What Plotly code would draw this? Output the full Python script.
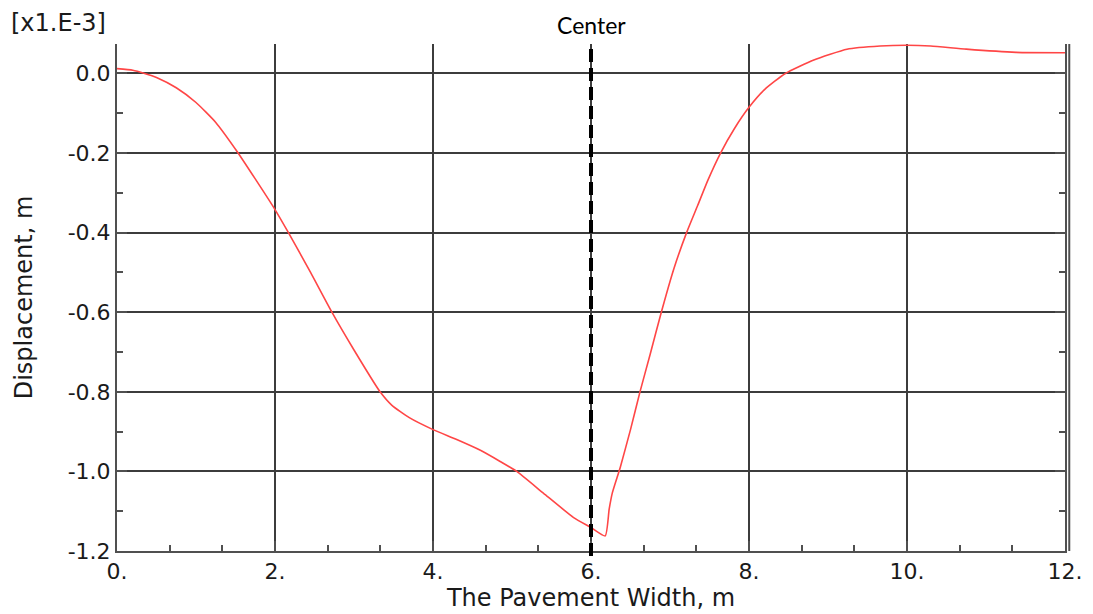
import plotly.graph_objects as go

# Displacement profile (x in m, y in units of 1e-3 m)
width_m = [0.0, 0.2, 0.35, 0.5, 0.75, 1.0, 1.25, 1.52, 1.75, 2.0, 2.17, 2.45, 2.72,
           3.0, 3.33, 3.48, 3.7, 4.0, 4.3, 4.6, 4.85, 5.06, 5.4, 5.78, 6.0, 6.18, 6.23,
           6.27, 6.37, 6.5, 6.62, 6.75, 6.89, 7.05, 7.21, 7.35, 7.48, 7.64, 7.82, 8.0,
           8.2, 8.46, 8.82, 9.24, 9.66, 10.0, 10.3, 10.75, 11.38, 12.0]
displacement = [0.012, 0.008, 0.0, -0.01, -0.036, -0.073, -0.123, -0.196, -0.265,
                -0.342, -0.4, -0.5, -0.6, -0.695, -0.8, -0.834, -0.865, -0.895, -0.92,
                -0.947, -0.975, -1.0, -1.055, -1.116, -1.141, -1.162, -1.095, -1.054,
                -0.99, -0.895, -0.8, -0.705, -0.6, -0.49, -0.4, -0.332, -0.268, -0.2,
                -0.137, -0.085, -0.04, 0.0, 0.034, 0.061, 0.069, 0.071, 0.069, 0.061,
                0.053, 0.052]

x_tickvals = [0, 2, 4, 6, 8, 10, 12]
x_ticktext = ["0.", "2.", "4.", "6.", "8.", "10.", "12."]
y_tickvals = [0.0, -0.2, -0.4, -0.6, -0.8, -1.0, -1.2]
y_ticktext = ["0.0", "-0.2", "-0.4", "-0.6", "-0.8", "-1.0", "-1.2"]
center_x = 6

AXIS_COLOR = "rgb(80,80,80)"
GRID_COLOR = "rgb(60,60,60)"
FONT = "DejaVu Sans"
TXT = "#1a1a1a"

fig = go.Figure()
fig.add_trace(go.Scatter(x=width_m, y=displacement, mode="lines",
                         line=dict(color="rgb(255,70,70)", width=1.6,
                                   shape="spline", smoothing=0.5),
                         showlegend=False, hoverinfo="skip"))

fig.add_shape(type="line", xref="x", yref="paper", x0=center_x, x1=center_x,
              y0=-0.01, y1=1.0, line=dict(color="black", width=4, dash="13px,6px"))
# second (outer) line of the right border
fig.add_shape(type="line", xref="paper", yref="paper", x0=1.0045, x1=1.0045,
              y0=0, y1=1, line=dict(color=AXIS_COLOR, width=2))

fig.add_annotation(text="Center", xref="x", yref="paper", x=center_x, y=1.069,
                   showarrow=False, font=dict(family="Lato", size=23, color="black"),
                   xanchor="center", yanchor="top")
fig.add_annotation(text="[x1.E-3]", xref="paper", yref="paper", x=-0.1135, y=1.041,
                   showarrow=False, font=dict(family=FONT, size=24, color=TXT),
                   xanchor="left", yanchor="middle")

fig.update_xaxes(range=[0, 12], tickvals=x_tickvals, ticktext=x_ticktext,
                 showgrid=True, gridcolor=GRID_COLOR, gridwidth=1.5,
                 showline=True, linecolor=AXIS_COLOR, linewidth=2, mirror=False,
                 ticks="inside", ticklen=10, tickcolor=AXIS_COLOR, tickwidth=1.5,
                 minor=dict(ticks="inside", dtick=2/3, tick0=0, ticklen=6,
                            tickcolor=AXIS_COLOR, tickwidth=1.5, showgrid=False),
                 zeroline=False, automargin=False,
                 tickfont=dict(family=FONT, size=22, color=TXT),
                 title=dict(text="The Pavement Width, m",
                            font=dict(family=FONT, size=24, color=TXT), standoff=4))
fig.update_yaxes(range=[-1.2, 0.074], tickvals=y_tickvals, ticktext=y_ticktext,
                 showgrid=True, gridcolor=GRID_COLOR, gridwidth=1.5,
                 showline=True, linecolor=AXIS_COLOR, linewidth=2, mirror="ticks",
                 ticks="inside", ticklen=10, tickcolor=AXIS_COLOR, tickwidth=1.5,
                 minor=dict(ticks="inside", dtick=0.1, tick0=0, ticklen=6,
                            tickcolor=AXIS_COLOR, tickwidth=1.5, showgrid=False),
                 zeroline=False, automargin=False,
                 tickfont=dict(family=FONT, size=22, color=TXT),
                 title=dict(text="Displacement, m",
                            font=dict(family=FONT, size=24, color=TXT), standoff=28))

# page body adds an 8px offset, so the figure is sized to fit the window
fig.update_layout(width=1085, height=606, plot_bgcolor="white", paper_bgcolor="white",
                  margin=dict(l=109, r=28, t=36, b=63))

fig.write_html("out.html")
